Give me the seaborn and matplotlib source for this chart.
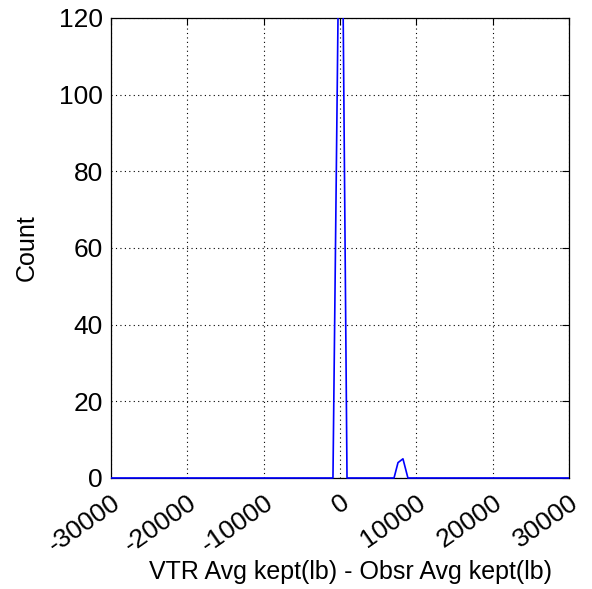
import pandas as pd
import seaborn as sns
import matplotlib.pyplot as plt
from matplotlib.patches import Rectangle

# difference values (bin centres) and counts
diff_lb = [-30000, -1000, -920, -200, 400, 920, 1000, 7080, 7600, 8250, 8900, 30000]
counts = [0, 0, 0, 131, 125, 0, 0, 0, 4, 5, 0, 0]

xticks = [-30000, -20000, -10000, 0, 10000, 20000, 30000]
yticks = [0, 20, 40, 60, 80, 100, 120]

df = pd.DataFrame({"diff": diff_lb, "count": counts})

sns.set_style("white", {"text.color": "black", "axes.labelcolor": "black",
                        "xtick.color": "black", "ytick.color": "black"})
plt.rcParams["font.family"] = ["Liberation Sans", "DejaVu Sans"]

fig = plt.figure(figsize=(5.92, 5.89), dpi=100)
ax = fig.add_axes([0.1875, 0.1885, 0.7736, 0.781])

sns.lineplot(data=df, x="diff", y="count", color="blue", linewidth=1.2,
             ax=ax, estimator=None, sort=False, zorder=3)

ax.set_xlim(-30000, 30000)
ax.set_ylim(0, 120)
ax.set_xticks(xticks)
ax.set_yticks(yticks)
ax.set_xticklabels([str(t) for t in xticks], rotation=35, ha="right",
                   rotation_mode="anchor")
ax.grid(True, color="black", linestyle=(0, (1, 3)), linewidth=0.8)
ax.set_axisbelow(True)

# let the zero-count line sit on top of the bottom axis like the original
clip = Rectangle((0, -0.01), 1, 1.01, transform=ax.transAxes)
for ln in ax.lines:
    if ln.get_color() == "blue":
        ln.set_clip_path(clip)

ax.tick_params(direction="in", length=5, width=0.8, color="black",
               labelcolor="black", top=True, right=True, labelsize=19)
ax.tick_params(axis="y", pad=6)
ax.tick_params(axis="x", pad=9)
for s in ax.spines.values():
    s.set_color("black")
    s.set_linewidth(0.9)
    s.set_zorder(2)

ax.set_xlabel("VTR Avg kept(lb) - Obsr Avg kept(lb)", fontsize=18,
              labelpad=2, x=0.524, color="black")
ax.set_ylabel("Count", fontsize=18, labelpad=14, color="black")

plt.savefig("out.png", dpi=100)
